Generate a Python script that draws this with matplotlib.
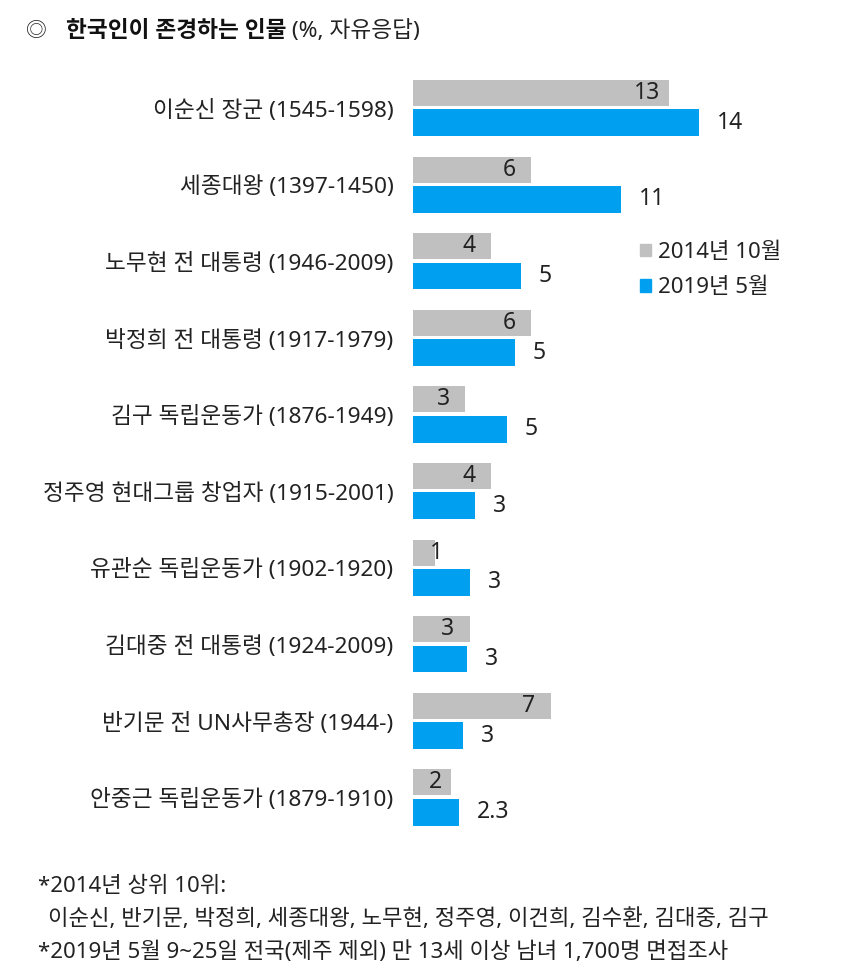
import matplotlib
matplotlib.use("Agg")
import matplotlib.pyplot as plt
from matplotlib.patches import Patch

plt.rcParams['font.family'] = ['Noto Sans', 'Noto Sans CJK KR', 'DejaVu Sans']

categories = [
    "이순신 장군 (1545-1598)",
    "세종대왕 (1397-1450)",
    "노무현 전 대통령 (1946-2009)",
    "박정희 전 대통령 (1917-1979)",
    "김구 독립운동가 (1876-1949)",
    "정주영 현대그룹 창업자 (1915-2001)",
    "유관순 독립운동가 (1902-1920)",
    "김대중 전 대통령 (1924-2009)",
    "반기문 전 UN사무총장 (1944-)",
    "안중근 독립운동가 (1879-1910)",
]
v2014 = [12.8, 5.9, 3.9, 5.9, 2.6, 3.9, 1.1, 2.85, 6.9, 1.9]
v2019 = [14.3, 10.4, 5.4, 5.1, 4.7, 3.1, 2.85, 2.7, 2.5, 2.3]
lab2014 = ["13", "6", "4", "6", "3", "4", "1", "3", "7", "2"]
lab2019 = ["14", "11", "5", "5", "5", "3", "3", "3", "3", "2.3"]
series_names = ["2014년 10월", "2019년 5월"]

GRAY = "#c0c0c0"
BLUE = "#009ff0"
TXT = "#222222"

fig = plt.figure(figsize=(8.5, 9.8), dpi=100)
ax = fig.add_axes([413 / 850, 1 - 836 / 980, 400 / 850, 766 / 980])

y = list(range(len(categories)))
ax.barh([i - 0.2 for i in y], v2014, height=0.34, color=GRAY)
ax.barh([i + 0.19 for i in y], v2019, height=0.35, color=BLUE)

for i in y:
    ax.text(max(v2014[i] - 1.1, 1.15), i - 0.2, lab2014[i], ha="center", va="center",
            fontsize=16.5, color=TXT)
    ax.text(v2019[i] + 0.9, i + 0.19, lab2019[i], ha="left", va="center",
            fontsize=16.5, color=TXT)

ax.set_xlim(0, 20)
ax.set_ylim(9.5, -0.5)
ax.set_yticks(y, labels=categories)
ax.tick_params(axis="y", length=0, pad=14, labelsize=16.3, labelcolor=TXT)
ax.set_xticks([])
for s in ax.spines.values():
    s.set_visible(False)

handles = [Patch(color=GRAY), Patch(color=BLUE)]
fig.legend(handles, series_names, loc="upper left", bbox_to_anchor=(620 / 850, 1 - 222 / 980),
           frameon=False, fontsize=16, handlelength=0.5, handleheight=0.5,
           handletextpad=0.3, labelspacing=0.65, labelcolor=TXT)

# title
fig.text(26 / 850, 1 - 31 / 980, "◎", fontsize=15, va="center", ha="left", color=TXT,
         family=['Noto Sans CJK KR', 'DejaVu Sans'])
t1 = fig.text(66 / 850, 1 - 31 / 980, "한국인이 존경하는 인물", fontsize=16.3, fontweight="bold",
              va="center", ha="left", color="#111111")
ax.annotate(" (%, 자유응답)", xy=(1, 0), xycoords=t1, va="bottom", ha="left",
            fontsize=16.3, color=TXT, annotation_clip=False)

# footnotes
fig.text(38 / 850, 1 - 886 / 980, "*2014년 상위 10위:", fontsize=16, va="center", color=TXT)
fig.text(48 / 850, 1 - 919 / 980,
         "이순신, 반기문, 박정희, 세종대왕, 노무현, 정주영, 이건희, 김수환, 김대중, 김구",
         fontsize=16, va="center", color=TXT)
fig.text(38 / 850, 1 - 952 / 980,
         "*2019년 5월 9~25일 전국(제주 제외) 만 13세 이상 남녀 1,700명 면접조사",
         fontsize=16, va="center", color=TXT)

fig.savefig("out.png", dpi=100)
